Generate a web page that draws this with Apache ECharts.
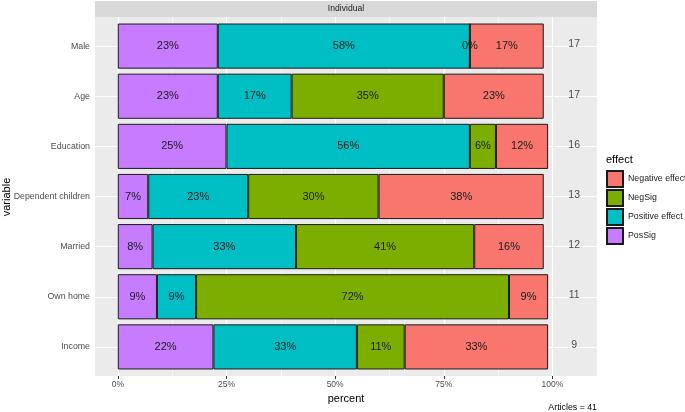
<!DOCTYPE html>
<html><head><meta charset="utf-8">
<script src="https://cdn.jsdelivr.net/npm/echarts@6/dist/echarts.min.js"></script>
<style>html,body{margin:0;padding:0;background:#fff}#c{width:685px;height:412px}</style>
</head><body><div id="c"></div>
<script>
// ---- data ----
const categories = ['Male', 'Age', 'Education', 'Dependent children', 'Married', 'Own home', 'Income'];
const posSig = [23, 23, 25, 7, 8, 9, 22];
const positiveEffect = [58, 17, 56, 23, 33, 9, 33];
const negSig = [0, 35, 6, 30, 41, 72, 11];
const negativeEffect = [17, 23, 12, 38, 16, 9, 33];
const articleCounts = [17, 17, 16, 13, 12, 11, 9];
const countX = 105;
const xTicks = [0, 25, 50, 75, 100];
const xMinorTicks = [12.5, 37.5, 62.5, 87.5];
const legendOrder = ['Negative effect', 'NegSig', 'Positive effect', 'PosSig'];
const totalArticles = 41;

// ---- layout ----
const FONT = '"Liberation Sans", Arial, sans-serif';
const PL = 95, PT = 17, PW = 502, PH = 359;
const unit = PH / (categories.length + 0.16);
const barTop = PT + 0.08 * unit;
const barH = unit * categories.length;
const XMIN = -5.25, XMAX = 110.25;

const chart = echarts.init(document.getElementById('c'), null, {renderer: 'canvas'});

function barSeries(name, data, color) {
  return {
    name: name, type: 'bar', stack: 'total', xAxisIndex: 1, yAxisIndex: 1, z: 3,
    barWidth: '90%',
    data: data,
    itemStyle: {color: color, borderColor: '#1a1a1a', borderWidth: 1},
    label: {show: true, position: 'inside', formatter: '{c}%', color: '#1a1a1a', fontSize: 11, fontFamily: FONT},
    emphasis: {disabled: true}
  };
}

const option = {
  animation: false,
  textStyle: {fontFamily: FONT},
  grid: [
    {left: PL, top: PT, width: PW, height: PH, show: true, backgroundColor: '#EBEBEB', borderWidth: 0},
    {left: PL, top: barTop, width: PW, height: barH}
  ],
  xAxis: [
    {gridIndex: 0, type: 'value', min: XMIN, max: XMAX,
      axisLine: {show: false},
      axisTick: {show: true, customValues: xTicks, length: 3, lineStyle: {color: '#333', width: 1}},
      axisLabel: {show: true, customValues: xTicks, formatter: v => v + '%', color: '#4D4D4D', fontSize: 8.5, margin: 4, fontFamily: FONT},
      splitLine: {show: false},
      name: 'percent', nameLocation: 'middle', nameGap: 13,
      nameTextStyle: {color: '#000', fontSize: 11, fontFamily: FONT}
    },
    {gridIndex: 1, type: 'value', min: XMIN, max: XMAX, show: false}
  ],
  yAxis: [
    {gridIndex: 0, type: 'value', min: 0, max: 1, show: false},
    {gridIndex: 1, type: 'category', data: categories, inverse: true,
      axisLine: {show: false},
      axisTick: {show: true, alignWithLabel: true, interval: 0, length: 3, lineStyle: {color: '#333', width: 1}},
      axisLabel: {color: '#4D4D4D', fontSize: 8.8, margin: 5, interval: 0, fontFamily: FONT},
      splitLine: {show: false}
    }
  ],
  legend: {
    orient: 'vertical', left: 601, top: 165, itemWidth: 16, itemHeight: 16, itemGap: 1,
    icon: 'rect', selectedMode: false, data: legendOrder,
    textStyle: {color: '#1a1a1a', fontSize: 8.8, fontFamily: FONT, overflow: 'none'}
  },
  series: [
    {type: 'line', xAxisIndex: 0, yAxisIndex: 0, data: [], z: 1, silent: true,
      markLine: {silent: true, z: 1, symbol: 'none', animation: false, label: {show: false},
        data: xTicks.map(v => ({xAxis: v, lineStyle: {color: '#fff', width: 1.2, type: 'solid'}}))
          .concat(xMinorTicks.map(v => ({xAxis: v, lineStyle: {color: '#fff', width: 0.6, type: 'solid'}})))
      }
    },
    {type: 'line', xAxisIndex: 1, yAxisIndex: 1, data: [], z: 1, silent: true,
      markLine: {silent: true, z: 1, symbol: 'none', animation: false, label: {show: false},
        lineStyle: {color: '#fff', width: 1.2, type: 'solid'},
        data: categories.map(c => ({yAxis: c}))
      }
    },
    barSeries('PosSig', posSig, '#C77CFF'),
    barSeries('Positive effect', positiveEffect, '#00BFC4'),
    barSeries('NegSig', negSig, '#7CAE00'),
    barSeries('Negative effect', negativeEffect, '#F8766D'),
    {type: 'scatter', xAxisIndex: 1, yAxisIndex: 1, z: 4, symbolSize: 0, silent: true,
      data: categories.map((c, i) => ({value: [countX, c], count: articleCounts[i]})),
      label: {show: true, position: 'inside', offset: [0, -1.5], formatter: p => String(p.data.count), color: '#1a1a1a', fontSize: 10.5, fontFamily: FONT}
    }
  ],
  graphic: [
    {type: 'rect', shape: {x: PL, y: 1, width: PW, height: 16}, style: {fill: '#D9D9D9'}, silent: true},
    {type: 'text', x: PL + PW / 2, y: 9, style: {text: 'Individual', fill: '#1a1a1a', fontSize: 8.6, fontFamily: FONT, textAlign: 'center', textVerticalAlign: 'middle'}},
    {type: 'text', x: 7, y: 197, rotation: Math.PI / 2, style: {text: 'variable', fill: '#000', fontSize: 11, fontFamily: FONT, textAlign: 'center', textVerticalAlign: 'middle'}},
    {type: 'text', x: 606, y: 160, style: {text: 'effect', fill: '#000', fontSize: 11, fontFamily: FONT, textAlign: 'left', textVerticalAlign: 'middle'}},
    {type: 'text', x: 597, y: 408, style: {text: 'Articles = ' + totalArticles, fill: '#000', fontSize: 8.8, fontFamily: FONT, textAlign: 'right', textVerticalAlign: 'middle'}}
  ]
};
chart.setOption(option);
</script>
</body></html>
